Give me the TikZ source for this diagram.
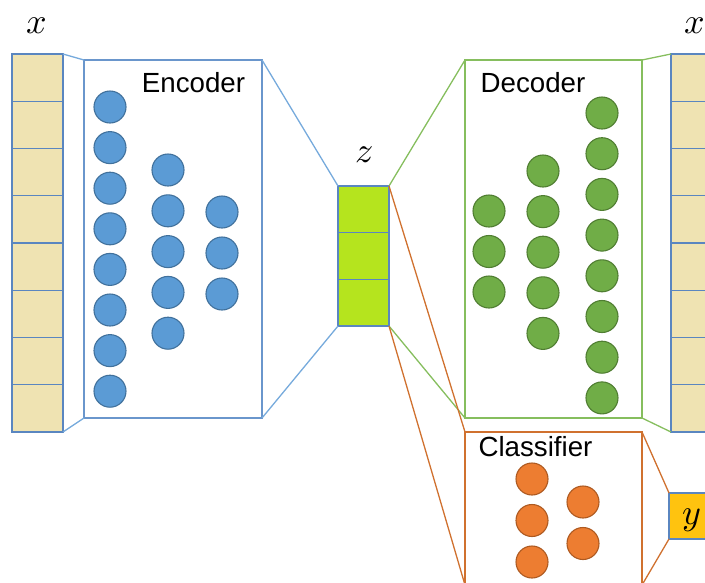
\documentclass[tikz,border=0pt]{standalone}
\usepackage{fontspec}
\usepackage{unicode-math}
\setmainfont{Liberation Sans}
\setmathfont{Latin Modern Math}
\definecolor{cream}{HTML}{EFE3B2}
\definecolor{cellblue}{HTML}{5A86C0}
\definecolor{encblue}{HTML}{6A96CC}
\definecolor{conblue}{HTML}{76AADC}
\definecolor{cfillblue}{HTML}{5B9BD5}
\definecolor{cdrawblue}{HTML}{41719C}
\definecolor{cfillgreen}{HTML}{70AD47}
\definecolor{cdrawgreen}{HTML}{507E32}
\definecolor{decgreen}{HTML}{86BE5E}
\definecolor{cfillorange}{HTML}{ED7D31}
\definecolor{cdraworange}{HTML}{AE5A21}
\definecolor{clsorange}{HTML}{D0712F}
\definecolor{zlime}{HTML}{B5E41E}
\definecolor{ygold}{HTML}{FFC30F}
\tikzset{
  cell/.style={draw=cellblue, fill=cream, line width=1.3pt, minimum width=51pt, minimum height=47.25pt, inner sep=0pt, outer sep=0pt},
  zcell/.style={draw=cellblue, fill=zlime, line width=1.3pt, minimum width=51pt, minimum height=46.67pt, inner sep=0pt, outer sep=0pt},
  bigbox/.style={line width=1.3pt, fill=white, inner sep=0pt, outer sep=0pt},
  neuron/.style={circle, line width=1.1pt, minimum size=32pt, inner sep=0pt, outer sep=0pt},
  bn/.style={neuron, fill=cfillblue, draw=cdrawblue},
  gn/.style={neuron, fill=cfillgreen, draw=cdrawgreen},
  on/.style={neuron, fill=cfillorange, draw=cdraworange},
  boxlabel/.style={anchor=base, inner sep=0pt, font=\fontsize{27.7}{30}\selectfont},
  mathlabel/.style={anchor=base, inner sep=0pt, font=\fontsize{36}{40}\selectfont},
  conn/.style={line width=1.3pt}
}
\begin{document}
\begin{tikzpicture}[x=1pt, y=-1pt]
\useasboundingbox (0,0) rectangle (705,582);
\clip (0,0) rectangle (705,582);
% left input column
\foreach \i in {1,...,8} {
  \node[cell] (xl\i) at (37.5, {54+47.25*(\i-0.5)}) {};
}
% right output column
\foreach \i in {1,...,8} {
  \node[cell] (xr\i) at (696.5, {54+47.25*(\i-0.5)}) {};
}
% z column
\foreach \i in {1,2,3} {
  \node[zcell] (z\i) at (363.5, {186+46.67*(\i-0.5)}) {};
}
% boxes
\node[bigbox, draw=encblue, minimum width=178pt, minimum height=358pt] (enc) at (173,239) {};
\node[bigbox, draw=decgreen, minimum width=177pt, minimum height=358pt] (dec) at (553.5,239) {};
\node[bigbox, draw=clsorange, minimum width=177pt, minimum height=153pt] (cls) at (553.5,508.5) {};
\node[draw=cellblue, fill=ygold, line width=1.3pt, minimum width=46pt, minimum height=46pt, inner sep=0pt, outer sep=0pt] (ybox) at (692,516) {};
% connectors
\draw[conn, conblue] (xl1.north east) -- (enc.north west);
\draw[conn, conblue] (xl8.south east) -- (enc.south west);
\draw[conn, conblue] (enc.north east) -- (z1.north west);
\draw[conn, conblue] (enc.south east) -- (z3.south west);
\draw[conn, decgreen] (z1.north east) -- (dec.north west);
\draw[conn, decgreen] (z3.south east) -- (dec.south west);
\draw[conn, decgreen] (dec.north east) -- (xr1.north west);
\draw[conn, decgreen] (dec.south east) -- (xr8.south west);
\draw[conn, clsorange] (z1.north east) -- (cls.north west);
\draw[conn, clsorange] (z3.south east) -- (cls.south west);
\draw[conn, clsorange] (cls.north east) -- (ybox.north west);
\draw[conn, clsorange] (cls.south east) -- (ybox.south west);
% labels
\node[boxlabel] (encl) at (193.5,92) {Encoder};
\node[boxlabel] (decl) at (533,92) {Decoder};
\node[boxlabel] (clsl) at (535.5,456) {Classifier};
\node[mathlabel] (xlab) at (37,33) {$x$};
\node[mathlabel] (xrlab) at (695,33) {$x$};
\node[mathlabel] (zlab) at (364,162) {$z$};
\node[mathlabel] (ylab) at (692,524) {$y$};
% encoder neurons
\foreach \i in {1,...,8} { \node[bn] (e1\i) at (110, {107+40.6*(\i-1)}) {}; }
\foreach \i in {1,...,5} { \node[bn] (e2\i) at (168, {170+40.8*(\i-1)}) {}; }
\foreach \i in {1,...,3} { \node[bn] (e3\i) at (222, {212+41*(\i-1)}) {}; }
% decoder neurons
\foreach \i in {1,...,3} { \node[gn] (d1\i) at (489, {211+40.5*(\i-1)}) {}; }
\foreach \i in {1,...,5} { \node[gn] (d2\i) at (543, {171+40.6*(\i-1)}) {}; }
\foreach \i in {1,...,8} { \node[gn] (d3\i) at (602, {113+40.7*(\i-1)}) {}; }
% classifier neurons
\foreach \i in {1,...,3} { \node[on] (c1\i) at (532, {479+41.5*(\i-1)}) {}; }
\foreach \i in {1,2} { \node[on] (c2\i) at (583, {502+41.5*(\i-1)}) {}; }
\end{tikzpicture}
\end{document}
